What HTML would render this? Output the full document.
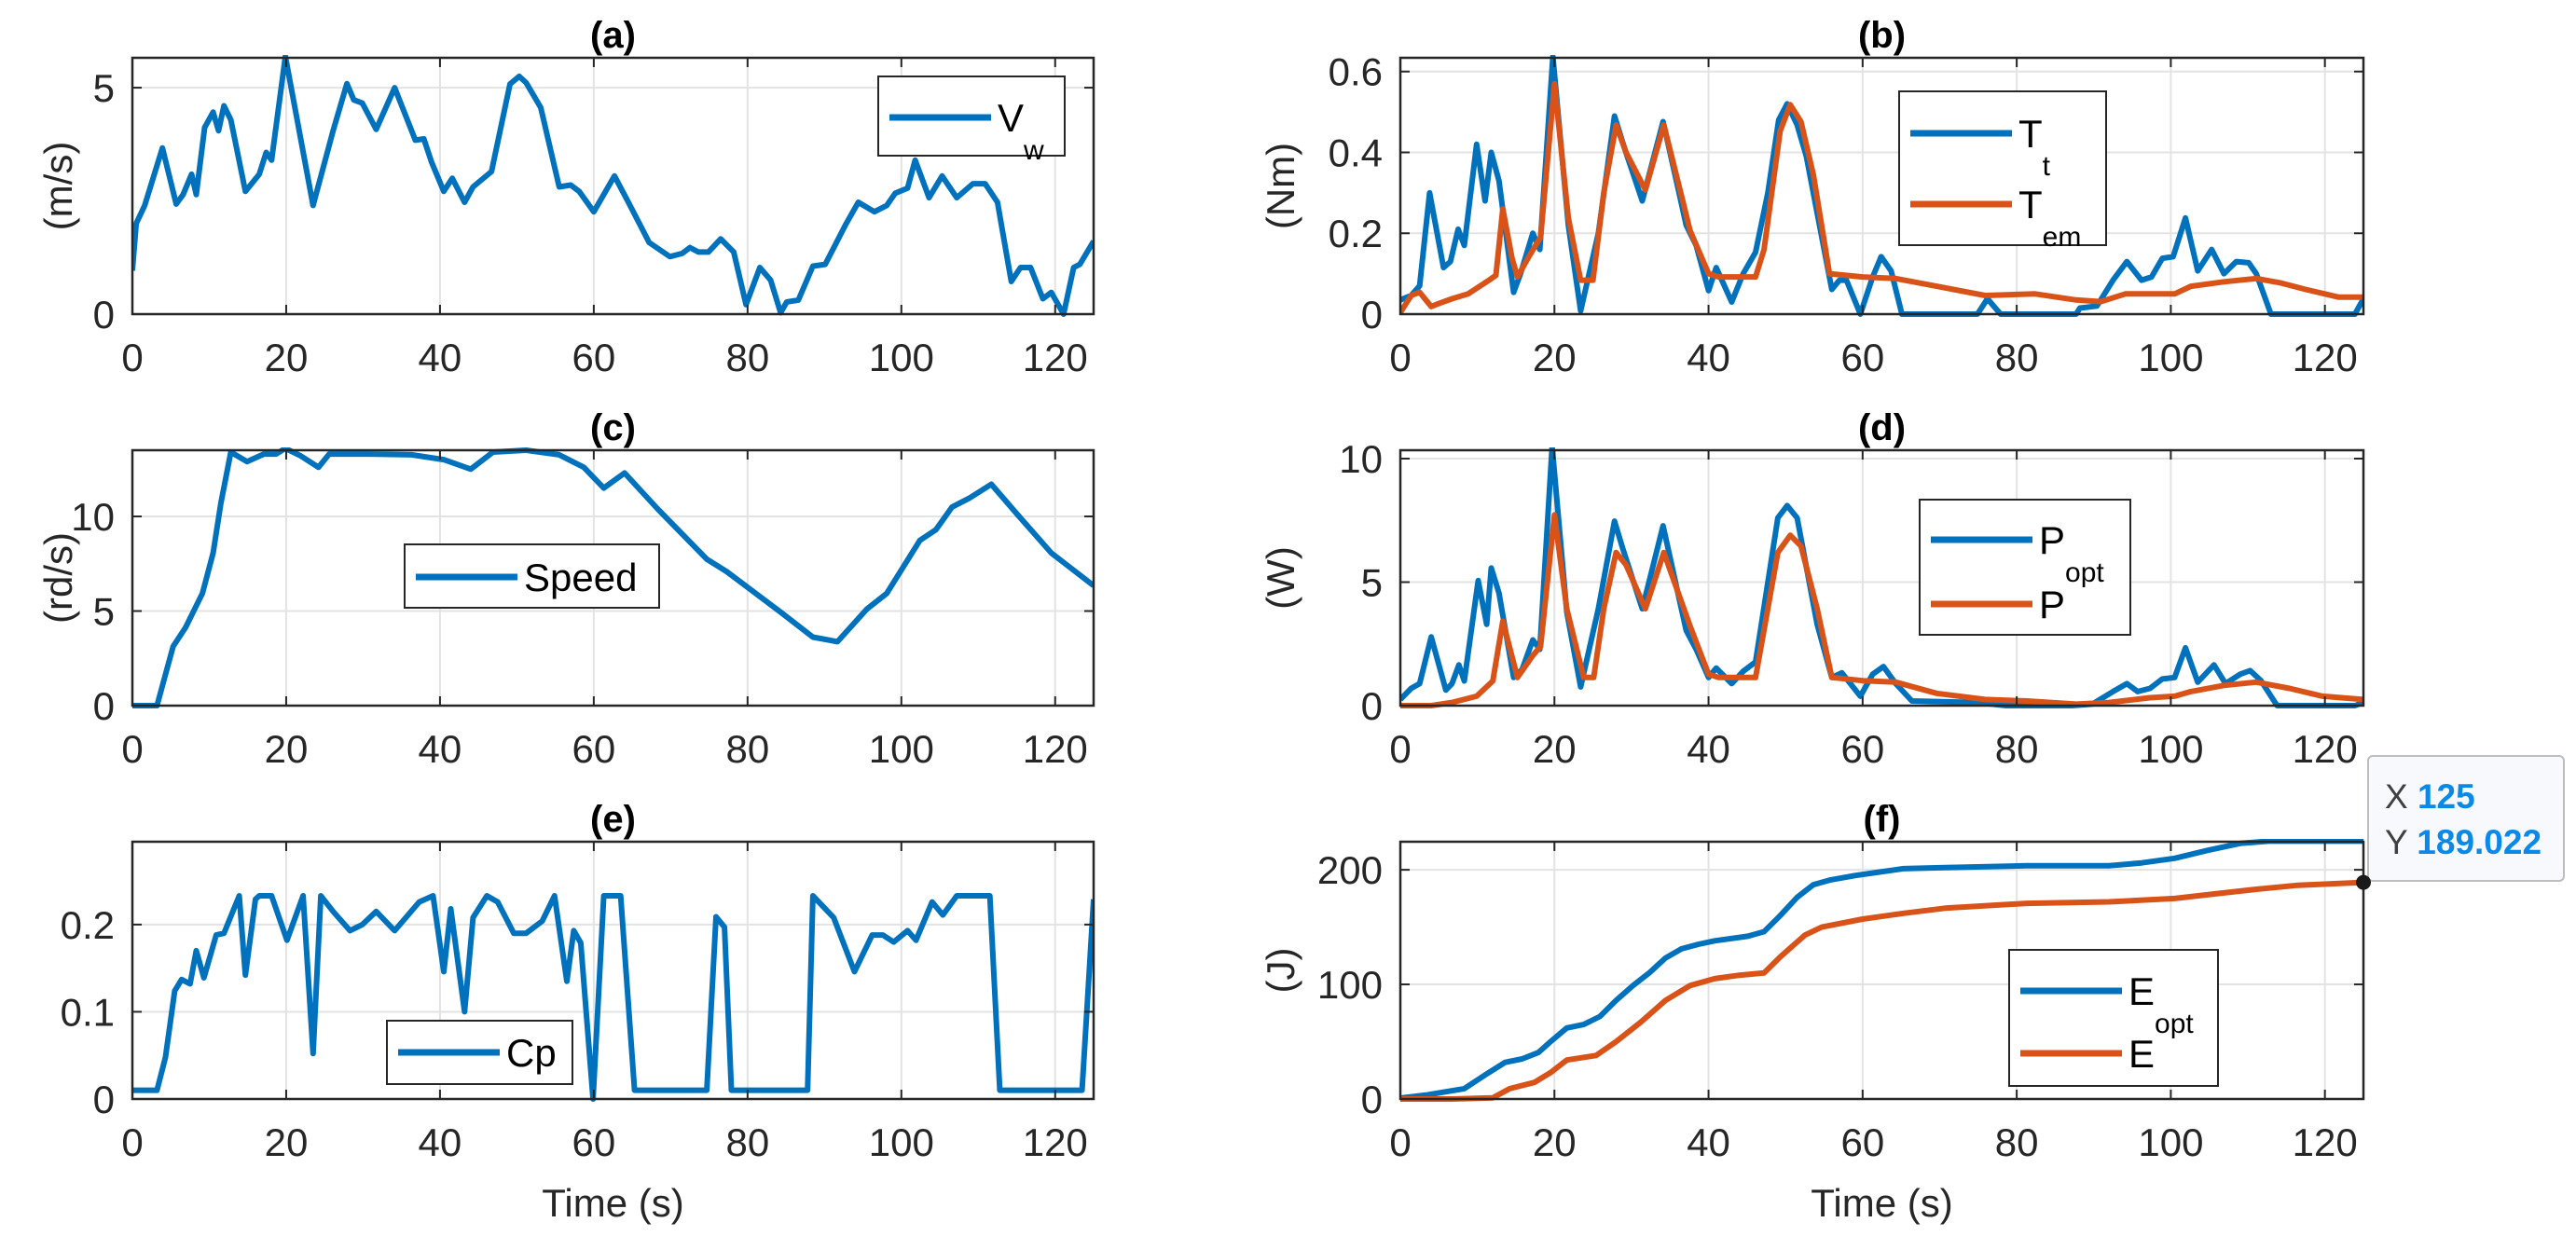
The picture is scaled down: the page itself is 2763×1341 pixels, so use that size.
<!DOCTYPE html>
<html><head><meta charset="utf-8"><style>
html,body{margin:0;padding:0;background:#fff;}
svg{display:block;font-family:"Liberation Sans",Arial,sans-serif;}
</style></head><body>
<svg id="fig" width="2763" height="1341" viewBox="0 0 2763 1341" xmlns="http://www.w3.org/2000/svg">
<rect x="0" y="0" width="2763" height="1341" fill="#fff"/>
</svg>
<script>
const xTicks=[0,20,40,60,80,100,120];
const tA=[0,0.5,1.6,3.9,5.7,6.6,7.7,8.3,9.4,10.5,11.2,11.9,12.8,14.7,16.5,17.4,18.1,19.9,23.5,26.1,27.9,28.8,29.9,31.7,34.1,36.8,37.9,38.9,40.5,41.6,43.2,44.3,46.7,49.1,50.3,51.2,53.1,55.5,57,58.1,60,62.7,64.5,67.2,69.9,71.5,72.5,73.6,74.9,76.5,78.2,79.8,81.6,83,84.3,85.1,86.6,88.5,90.1,92.8,94.4,96.5,98.1,99.2,100.8,101.8,103.6,105.3,107.2,109.3,110.9,112.5,114.3,115.5,116.8,118.4,119.5,121.1,122.4,123.2,125];
const vw=[0.96,2.0,2.4,3.67,2.43,2.64,3.09,2.64,4.12,4.46,4.05,4.6,4.29,2.71,3.09,3.57,3.4,5.69,2.4,4.05,5.09,4.73,4.66,4.08,5.0,3.84,3.87,3.36,2.71,3.0,2.47,2.81,3.15,5.08,5.25,5.11,4.56,2.81,2.85,2.71,2.26,3.05,2.47,1.58,1.27,1.34,1.47,1.37,1.37,1.66,1.37,0.21,1.03,0.75,0.03,0.27,0.31,1.06,1.1,1.99,2.47,2.26,2.4,2.67,2.78,3.4,2.57,3.05,2.57,2.88,2.88,2.47,0.72,1.03,1.03,0.34,0.48,0,1.03,1.1,1.61];
const tTt=[0,1.4,2.5,3.8,5.6,6.5,7.5,8.3,9.9,11,11.8,12.8,14.7,15.6,17.2,18.1,19.8,21.8,23.4,25.7,27.8,29.1,31.4,34.1,36,37.1,38.4,40,41,43,44.5,46.1,47.7,49.1,50.2,51.5,52.7,54.1,56,57,57.9,59.7,61.3,62.4,63.7,65.1,74.9,76.2,77.9,87.7,88.2,90.4,92.5,94.3,96.2,97.5,98.9,100.3,101.9,103.5,105.3,106.9,108.5,110.1,111.1,113,123.9,125];
const tt=[0.035,0.046,0.07,0.30,0.115,0.13,0.21,0.17,0.42,0.28,0.40,0.33,0.054,0.10,0.20,0.16,0.637,0.22,0.008,0.20,0.49,0.41,0.28,0.476,0.315,0.22,0.17,0.058,0.115,0.03,0.10,0.153,0.30,0.48,0.52,0.468,0.39,0.25,0.061,0.084,0.084,0,0.092,0.142,0.107,0,0,0.038,0,0,0.015,0.02,0.084,0.13,0.084,0.092,0.138,0.142,0.238,0.107,0.16,0.10,0.13,0.127,0.10,0,0,0.038];
const tTem=[0,1.4,2.5,4,5.1,6.7,8.8,11.5,12.4,13.3,14.5,15.2,16.8,18.2,20,21.8,23.4,25,26.4,28,29.3,31.8,34.2,36.6,37.6,40,41.3,46.1,47.2,49.3,50.6,52,53.6,55.7,60,64.3,69.6,75.9,82.4,87.7,90.9,94.1,100.5,102.6,106.9,111.1,114.3,117.5,121.8,125];
const tem=[0.004,0.046,0.054,0.019,0.027,0.038,0.05,0.084,0.096,0.26,0.138,0.092,0.146,0.19,0.57,0.238,0.084,0.084,0.30,0.468,0.40,0.307,0.468,0.284,0.207,0.10,0.092,0.092,0.16,0.453,0.518,0.476,0.345,0.10,0.092,0.088,0.069,0.046,0.05,0.035,0.031,0.05,0.05,0.069,0.08,0.088,0.077,0.061,0.042,0.042];
const tSp=[0,3.2,4.3,5.3,6.9,9.1,10.5,11.5,12.8,14.9,17.1,18.7,19.9,21.9,24.2,25.6,30.9,36.3,40.5,44,46.9,51.2,55.5,58.7,61.3,64,68.3,74.7,77.3,84.3,88.5,91.7,95.5,98.1,102.4,104.5,106.6,108.8,111.7,115.2,119.5,125];
const speed=[0,0,1.65,3.13,4.12,5.93,8.07,10.7,13.4,12.9,13.3,13.3,13.6,13.2,12.6,13.3,13.3,13.26,13.0,12.5,13.4,13.5,13.26,12.6,11.5,12.3,10.4,7.74,7.08,4.94,3.62,3.38,5.1,5.93,8.73,9.3,10.5,10.96,11.7,10.05,8.07,6.34];
const tPo=[0,1.4,2.5,4,5.9,6.7,7.6,8.3,10.1,11.2,11.8,12.8,14.7,15.8,17.2,18.1,19.7,21.6,23.4,25.7,27.8,28.9,31.4,34.1,37.1,38.4,40,41,43,44.5,46.1,49,50.2,51.5,54.1,56,57.3,59.7,61.3,62.7,64.3,66.4,74.9,78.6,87.2,89.8,92.5,94.3,95.7,97.3,98.9,100.5,101.9,103.5,105.6,107.1,109,110.3,111.7,113.8,123.9,125];
const popt=[0.25,0.7,0.89,2.78,0.63,0.89,1.65,1.0,5.06,3.29,5.57,4.56,1.14,1.46,2.66,2.28,10.5,3.8,0.76,3.92,7.47,6.33,3.92,7.28,3.04,2.28,1.14,1.52,0.89,1.39,1.77,7.6,8.1,7.6,3.29,1.14,1.33,0.38,1.27,1.58,0.89,0.19,0.13,0,0,0.06,0.57,0.89,0.57,0.7,1.08,1.14,2.34,0.95,1.65,0.89,1.27,1.42,1.01,0,0,0.13];
const tP=[0,4,6.7,9.9,12,13.3,15.2,17.2,18.2,20,21.6,23.8,25.1,26.4,28,29.3,31.8,34.2,37.6,40,41.3,46.1,49,50.6,52,54.1,56,60,64.3,69.6,75.9,81.3,87.7,92,97.3,100.5,102.6,106.9,111.1,115.4,119.7,125];
const pw=[0,0,0.13,0.38,1.0,3.42,1.14,2.03,2.4,7.72,3.92,1.14,1.14,3.92,6.2,5.7,3.92,6.2,3.23,1.27,1.14,1.14,6.2,6.9,6.46,3.92,1.14,1.01,0.95,0.5,0.25,0.19,0.06,0.13,0.32,0.38,0.57,0.82,0.95,0.7,0.38,0.25];
const tCp=[0,3.2,4.3,5.5,6.4,7.5,8.3,9.3,10.9,11.9,13.9,14.7,16,16.5,18.1,20.1,22.2,23.5,24.5,26.1,28.3,29.9,31.7,34.1,37.3,39.1,40.5,41.4,43.2,44.3,46.1,47.5,49.6,51.2,53.3,54.9,56.5,57.4,58.3,59.9,61.3,63.5,65.3,74.7,75.9,77,77.9,87.8,88.5,91.2,93.9,96.2,97.6,99,100.8,101.9,104,105.4,107.2,111.5,112.8,123.5,125];
const cp=[0.01,0.01,0.048,0.124,0.137,0.132,0.17,0.139,0.188,0.19,0.233,0.142,0.229,0.233,0.233,0.182,0.233,0.052,0.233,0.215,0.193,0.2,0.215,0.193,0.226,0.233,0.146,0.218,0.1,0.208,0.233,0.226,0.19,0.19,0.204,0.233,0.135,0.193,0.179,0,0.233,0.233,0.01,0.01,0.209,0.197,0.01,0.01,0.233,0.208,0.146,0.188,0.188,0.18,0.193,0.182,0.226,0.211,0.233,0.233,0.01,0.01,0.229];
const tEo=[0,3.5,8.3,11,13.6,15.8,17.9,19.5,21.6,23.8,25.9,28,30.2,32.3,34.4,36.5,38.7,40.8,45.1,47.2,49.3,51.5,53.6,55.7,59,62.1,65.3,70.7,81.3,92,96.2,100.5,104.8,109,112.7,125];
const eopt=[0.8,3.6,9,21,32,35,40.5,50,62,65,72,86,99,110,123,131,135,138,142,146,160,176,187,191,195,198,201,202,203.5,203.5,206,210,217,223,225,225];
const tE=[0,6.7,12,14.2,17.4,19.5,21.6,25.4,28,31.2,34.4,37.6,40.8,44,47.2,49.3,52.5,54.7,60,65.3,70.7,81.3,92,100.5,105.8,111.1,116.5,125];
const en=[0,0,1,9,14.5,23,34,38,50,67,86,99,105,108,110,124,143,150,157,162,166.5,170.7,172,175,179,183,186.5,189.022];

const NS='http://www.w3.org/2000/svg';
const svg=document.getElementById('fig');
const BLUE='#0072BD', ORANGE='#D95319';
function mk(tag,attrs,parent){const e=document.createElementNS(NS,tag);for(const k in attrs)e.setAttribute(k,attrs[k]);(parent||svg).appendChild(e);return e;}

const L={x0:142,x1:1173}, R={x0:1502,x1:2535};
const rows=[{t:62,b:337},{t:483,b:757},{t:903,b:1179}];

function panel(id,col,row,ymax,yTicks,yFmt,ylabel,ylabelX,title,showXlabel,series,legend){
  const g=mk('g',{});
  
  
  const x0=col.x0,x1=col.x1,t=row.t,b=row.b;
  const sx=v=>x0+(v/125)*(x1-x0);
  const sy=v=>b-(v/ymax)*(b-t);
  xTicks.forEach(v=>{const l=mk('line',{x1:sx(v),x2:sx(v),y1:t,y2:b,stroke:'#e3e3e3','stroke-width':2},g);
    });
  yTicks.forEach(v=>{const l=mk('line',{x1:x0,x2:x1,y1:sy(v),y2:sy(v),stroke:'#e3e3e3','stroke-width':2},g);
    });
  const cid='clip'+id;
  const cp=mk('clipPath',{id:cid},g);mk('rect',{x:x0,y:t-3,width:x1-x0,height:b-t+6},cp);
  series.forEach(s=>{
    const d=s.t.map((tv,i)=>(i?'L':'M')+sx(tv).toFixed(1)+','+sy(s.v[i]).toFixed(1)).join('');
    const p=mk('path',{d:d,fill:'none',stroke:s.c,'stroke-width':6,'stroke-linejoin':'round','clip-path':'url(#'+cid+')'},g);
    
    
  });
  const bx=mk('rect',{x:x0,y:t,width:x1-x0,height:b-t,fill:'none',stroke:'#262626','stroke-width':2.5},g);
  
  xTicks.forEach(v=>{
    mk('line',{x1:sx(v),x2:sx(v),y1:b,y2:b-10,stroke:'#262626','stroke-width':2},g);
    mk('line',{x1:sx(v),x2:sx(v),y1:t,y2:t+10,stroke:'#262626','stroke-width':2},g);
    const tx=mk('text',{x:sx(v),y:b+61,'text-anchor':'middle','font-size':42,fill:'#262626'},g);
    tx.textContent=v;
    
  });
  yTicks.forEach((v,i)=>{
    mk('line',{x1:x0,x2:x0+10,y1:sy(v),y2:sy(v),stroke:'#262626','stroke-width':2},g);
    mk('line',{x1:x1,x2:x1-10,y1:sy(v),y2:sy(v),stroke:'#262626','stroke-width':2},g);
    const tx=mk('text',{x:x0-19,y:sy(v)+15,'text-anchor':'end','font-size':42,fill:'#262626'},g);
    tx.textContent=yFmt[i];
    
  });
  if(ylabel){
  const yl=mk('text',{x:ylabelX,y:(t+b)/2,'text-anchor':'middle','font-size':42,fill:'#262626',transform:'rotate(-90 '+ylabelX+' '+(t+b)/2+')',dy:'14'},g);
  yl.textContent=ylabel;
  
  }
  const ti=mk('text',{x:(x0+x1)/2,y:t-11,'text-anchor':'middle','font-size':40,'font-weight':'bold',fill:'#000'},g);
  ti.textContent=title;
  
  if(showXlabel){const xl=mk('text',{x:(x0+x1)/2,y:1305,'text-anchor':'middle','font-size':42,fill:'#262626'},g);
    xl.textContent='Time (s)';
    }
  const lg=mk('g',{},g);
  
  mk('rect',{x:legend.x,y:legend.y,width:legend.w,height:legend.h,fill:'#fff',stroke:'#262626','stroke-width':2},lg);
  legend.items.forEach(it=>{
    const e=mk('g',{},lg);
    
    mk('line',{x1:legend.x+12,x2:legend.x+121,y1:it.y,y2:it.y,stroke:it.c,'stroke-width':7},e);
    const tx=mk('text',{x:legend.x+128,y:it.y+15,'font-size':42,fill:'#000'},e);
    tx.textContent=it.main;
    if(it.sub){const ts=mk('tspan',{dy:30,'font-size':30},tx);ts.textContent=it.sub;}
  });
  return {sx,sy};
}

panel('a',L,rows[0],5.66,[0,5],['0','5'],'(m/s)',63,'(a)',false,
  [{t:tA,v:vw,c:BLUE,name:'wind-speed-line'}],
  {x:942,y:82,w:200,h:85,items:[{y:126,c:BLUE,main:'V',sub:'w'}]});
panel('b',R,rows[0],0.634,[0,0.2,0.4,0.6],['0','0.2','0.4','0.6'],'(Nm)',1374,'(b)',false,
  [{t:tTt,v:tt,c:BLUE,name:'turbine-torque-line'},{t:tTem,v:tem,c:ORANGE,name:'em-torque-line'}],
  {x:2037,y:98,w:222,h:165,items:[{y:143,c:BLUE,main:'T',sub:'t'},{y:219,c:ORANGE,main:'T',sub:'em'}]});
panel('c',L,rows[1],13.5,[0,5,10],['0','5','10'],'(rd/s)',63,'(c)',false,
  [{t:tSp,v:speed,c:BLUE,name:'speed-line'}],
  {x:434,y:584,w:273,h:68,items:[{y:619,c:BLUE,main:'Speed'}]});
panel('d',R,rows[1],10.34,[0,5,10],['0','5','10'],'(W)',1374,'(d)',false,
  [{t:tPo,v:popt,c:BLUE,name:'p-opt-line'},{t:tP,v:pw,c:ORANGE,name:'p-line'}],
  {x:2059,y:536,w:226,h:145,items:[{y:579,c:BLUE,main:'P',sub:'opt'},{y:648,c:ORANGE,main:'P'}]});
panel('e',L,rows[2],0.295,[0,0.1,0.2],['0','0.1','0.2'],'',63,'(e)',true,
  [{t:tCp,v:cp,c:BLUE,name:'cp-line'}],
  {x:415,y:1095,w:199,h:68,items:[{y:1129,c:BLUE,main:'Cp'}]});
const f=panel('f',R,rows[2],224.5,[0,100,200],['0','100','200'],'(J)',1374,'(f)',true,
  [{t:tEo,v:eopt,c:BLUE,name:'e-opt-line'},{t:tE,v:en,c:ORANGE,name:'e-line'}],
  {x:2155,y:1019,w:224,h:146,items:[{y:1063,c:BLUE,main:'E',sub:'opt'},{y:1130,c:ORANGE,main:'E'}]});

const tipX=tE[tE.length-1], tipY=en[en.length-1];
const dt=mk('g',{});


mk('rect',{x:2540,y:811,width:210,height:134,rx:5,fill:'#f8f9fc',stroke:'#bdbdbd','stroke-width':2},dt);
const l1=mk('text',{x:2558,y:867,'font-size':37,fill:'#404040'},dt);
l1.textContent='X ';
const v1=mk('tspan',{fill:'#0a8ae8','font-weight':'bold'},l1);v1.textContent=String(tipX);
const l2=mk('text',{x:2558,y:916,'font-size':37,fill:'#404040'},dt);
l2.textContent='Y ';
const v2=mk('tspan',{fill:'#0a8ae8','font-weight':'bold'},l2);v2.textContent=tipY.toFixed(3);
const dot=mk('circle',{cx:f.sx(tipX),cy:f.sy(tipY),r:8,fill:'#1a1a1a'});


</script>
</body></html>
